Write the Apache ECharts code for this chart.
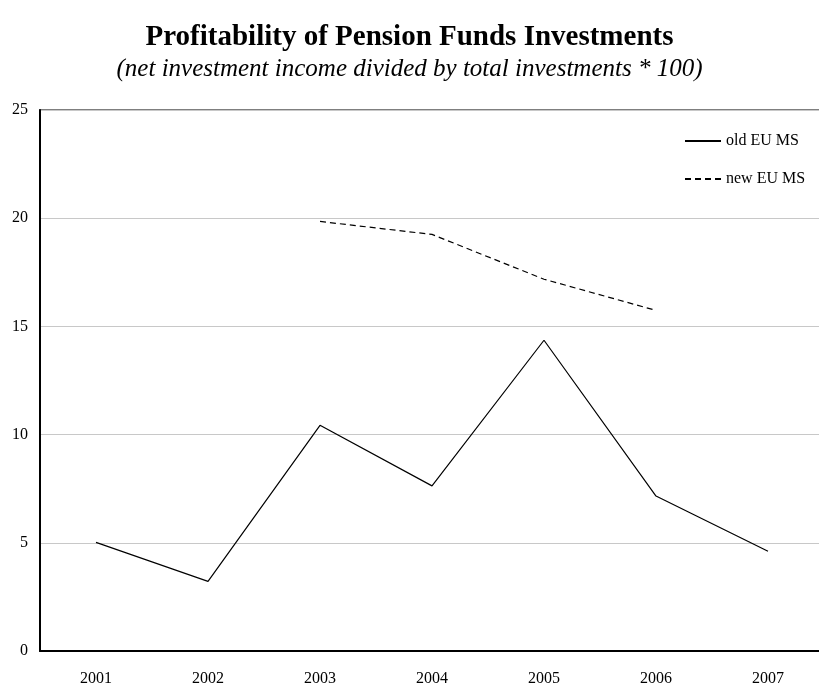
<!DOCTYPE html>
<html>
<head>
<meta charset="utf-8">
<script src="https://cdn.jsdelivr.net/npm/echarts@6/dist/echarts.min.js"></script>
<style>html,body{margin:0;padding:0;background:#fff}#c{width:819px;height:684px}</style>
</head>
<body>
<div id="c"></div>
<script>
const years = ['2001','2002','2003','2004','2005','2006','2007'];
const oldEU = [5.02, 3.22, 10.43, 7.63, 14.36, 7.16, 4.61];
const newEU = [null, null, 19.85, 19.25, 17.18, 15.74, null];
const titleText = 'Profitability of Pension Funds Investments';
const subtitleText = '(net investment income divided by total investments * 100)';
const serif = '"Liberation Serif", "Times New Roman", serif';

const chart = echarts.init(document.getElementById('c'), null, {renderer: 'canvas'});
chart.setOption({
  animation: false,
  backgroundColor: '#fff',
  title: {
    text: titleText,
    subtext: subtitleText,
    left: 'center',
    top: 18,
    itemGap: 5,
    textStyle: {fontFamily: serif, fontWeight: 'bold', fontSize: 29, color: '#000'},
    subtextStyle: {fontFamily: serif, fontStyle: 'italic', fontSize: 25, color: '#000'}
  },
  legend: {
    orient: 'vertical',
    left: 684,
    top: 133,
    padding: 0,
    itemWidth: 36,
    itemHeight: 16,
    itemGap: 22,
    itemStyle: {opacity: 0, borderWidth: 0},
    textStyle: {fontFamily: serif, fontSize: 16, color: '#000'},
    data: ['old EU MS', 'new EU MS']
  },
  grid: {
    left: 40, right: -5, top: 110, bottom: 33,
    containLabel: false,
    outerBoundsMode: 'none',
    show: true,
    borderColor: '#555',
    borderWidth: 1.5,
    backgroundColor: 'transparent'
  },
  xAxis: {
    type: 'category',
    data: years,
    boundaryGap: true,
    axisLine: {lineStyle: {color: '#000', width: 2}},
    axisTick: {inside: true, length: 5, lineStyle: {color: '#000', width: 1}},
    axisLabel: {fontFamily: serif, fontSize: 16, color: '#000', margin: 20}
  },
  yAxis: {
    type: 'value',
    min: 0, max: 25, interval: 5,
    axisLine: {show: true, lineStyle: {color: '#000', width: 2}},
    axisTick: {show: false},
    axisLabel: {fontFamily: serif, fontSize: 16, color: '#000', margin: 12},
    splitLine: {lineStyle: {color: '#c8c8c8', width: 1}}
  },
  series: [
    {
      name: 'old EU MS', type: 'line', data: oldEU,
      symbol: 'none',
      lineStyle: {color: '#000', width: 1.2, type: 'solid'},
      itemStyle: {color: '#000'}
    },
    {
      name: 'new EU MS', type: 'line', data: newEU,
      symbol: 'none',
      lineStyle: {color: '#000', width: 1.2, type: [6, 4]},
      itemStyle: {color: '#000'}
    }
  ]
});
</script>
</body>
</html>
